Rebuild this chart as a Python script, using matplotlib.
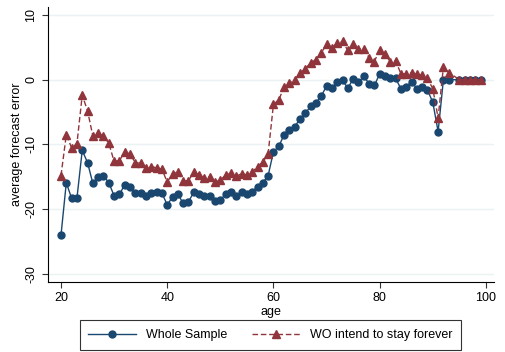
import numpy as np
import matplotlib
matplotlib.use('Agg')
import matplotlib.pyplot as plt

plt.rcParams['font.family'] = ['Liberation Sans', 'DejaVu Sans']

# ages (94 missing in the data)
age = list(range(20, 94)) + list(range(95, 100))

whole = [-24.0, -15.9, -18.3, -18.3, -10.9, -12.8, -16.0, -15.0, -14.8, -15.9,
         -17.9, -17.7, -16.2, -16.5, -17.5, -17.5, -18.0, -17.5, -17.4, -17.5,
         -19.3, -18.1, -17.6, -19.1, -18.8, -17.4, -17.7, -18.0, -17.9, -18.7,
         -18.5, -17.7, -17.3, -17.9, -17.4, -17.7, -17.3, -16.5, -15.9, -14.8,
         -11.1, -10.3, -8.5, -7.8, -7.3, -6.0, -5.2, -4.1, -3.6, -2.5,
         -1.0, -1.3, -0.4, -0.1, -1.3, 0.1, -0.4, 0.5, -0.6, -0.9,
         0.9, 0.5, 0.3, 0.2, -1.4, -1.1, -0.3, -1.4, -1.1, -1.6,
         -3.5, -8.0, 0.0, 0.0,
         0.0, 0.0, 0.0, 0.0, 0.0]

stay = [-14.8, -8.5, -10.5, -9.9, -2.4, -4.8, -8.7, -8.3, -8.7, -9.8,
        -12.6, -12.5, -11.1, -11.5, -12.8, -12.9, -13.6, -13.4, -13.6, -13.8,
        -15.8, -14.5, -14.2, -15.6, -15.6, -14.2, -14.7, -15.1, -15.0, -15.8,
        -15.5, -14.7, -14.4, -14.9, -14.5, -14.7, -14.2, -13.4, -12.7, -11.4,
        -3.8, -3.1, -1.2, -0.5, -0.1, 1.0, 1.7, 2.6, 3.1, 4.1,
        5.5, 4.9, 5.6, 5.9, 4.5, 5.5, 4.7, 4.8, 3.4, 2.8,
        4.6, 3.9, 2.8, 2.9, 0.9, 0.9, 1.1, 0.8, 0.7, 0.2,
        -1.4, -5.9, 2.0, 1.1,
        0.0, 0.0, 0.0, 0.0, 0.0]

NAVY = '#1a476f'
MAROON = '#90353b'

fig = plt.figure(figsize=(5.05, 3.52), dpi=100)
ax = fig.add_axes([0.095, 0.199, 0.883, 0.781])

ax.plot(age, whole, '-o', color=NAVY, lw=1.0, ms=5, label='Whole Sample', zorder=3)
ax.plot(age, stay, '--^', color=MAROON, lw=1.0, ms=5.5, dashes=(4, 2),
        label='WO intend to stay forever', zorder=4)

ax.set_xlim(17.55, 101.5)
ax.set_ylim(-31.2, 11.2)
ax.set_xticks([20, 40, 60, 80, 100])
ax.set_yticks([-30, -20, -10, 0, 10])
ax.set_yticklabels(['-30', '-20', '-10', '0', '10'], rotation=90, va='center')
ax.tick_params(labelsize=9, length=4, width=0.8, color='#333333')
ax.grid(axis='y', color='#eaf2f3', lw=1.0)
ax.set_axisbelow(True)
for s in ['top', 'right']:
    ax.spines[s].set_visible(False)
ax.spines['left'].set_linewidth(0.8)
ax.spines['bottom'].set_linewidth(0.8)

ax.set_xlabel('age', fontsize=9, labelpad=1)
ax.set_ylabel('average forecast error', fontsize=9, labelpad=2)

leg = fig.legend(loc='center', bbox_to_anchor=(0.535, 0.048), ncol=2,
                 fontsize=9, frameon=True, fancybox=False, edgecolor='black',
                 handlelength=3.8, columnspacing=2.0, borderpad=0.7)
leg.get_frame().set_linewidth(0.8)

fig.savefig('out.png', dpi=100)
